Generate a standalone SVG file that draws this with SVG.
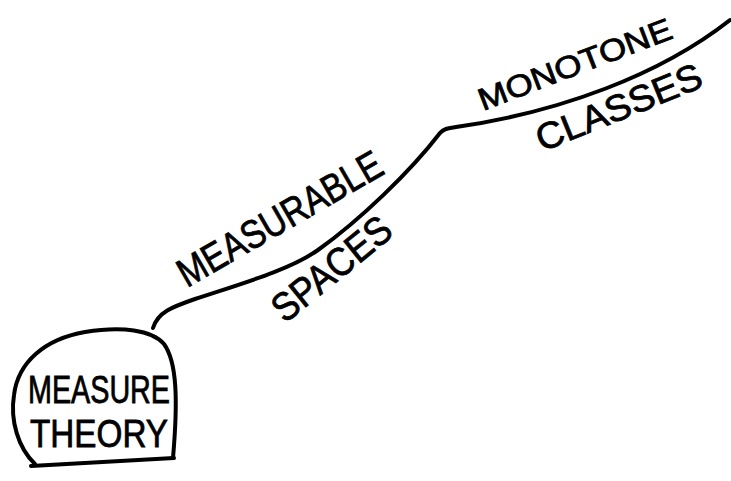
<svg xmlns="http://www.w3.org/2000/svg" width="731" height="481" viewBox="0 0 731 481">
<style>
.ln{fill:none;stroke:#000;stroke-width:4;stroke-linecap:round;stroke-linejoin:round}
.t{font-family:"Liberation Sans","DejaVu Sans",sans-serif;fill:#000;stroke:#000;stroke-width:0.8}
</style>
<rect width="731" height="481" fill="#fff"/>
<g id="connectors">
<path class="ln" d="M153,328 C158,312 172,307 195,299 C240,284 290,270 318,250 C360,220 410,172 440,133 C444,128 450,128 456,127 C560,112 660,75 730,20"/>
</g>
<g id="measure-theory">
<path class="ln" d="M35,464 C18,448 10,420 14,395 C18,362 45,339 85,332 C122,326 152,330 164,344 C177,362 178,400 173,458"/>
<path class="ln" d="M31,466 L174,458"/>
<text class="t" x="28" y="403" font-size="38" textLength="142" lengthAdjust="spacingAndGlyphs">MEASURE</text>
<text class="t" x="30" y="447" font-size="38" textLength="138" lengthAdjust="spacingAndGlyphs">THEORY</text>
</g>
<g id="measurable-spaces">
<text class="t" transform="translate(187,288) rotate(-30)" font-size="40" textLength="230" lengthAdjust="spacingAndGlyphs">MEASURABLE</text>
<text class="t" transform="translate(285,324) rotate(-39)" font-size="40" textLength="142" lengthAdjust="spacingAndGlyphs">SPACES</text>
</g>
<g id="monotone-classes">
<text class="t" transform="translate(483,111) rotate(-21)" font-size="31" textLength="205" lengthAdjust="spacingAndGlyphs">MONOTONE</text>
<text class="t" transform="translate(542,152) rotate(-22)" font-size="37" textLength="176" lengthAdjust="spacingAndGlyphs">CLASSES</text>
</g>
</svg>
